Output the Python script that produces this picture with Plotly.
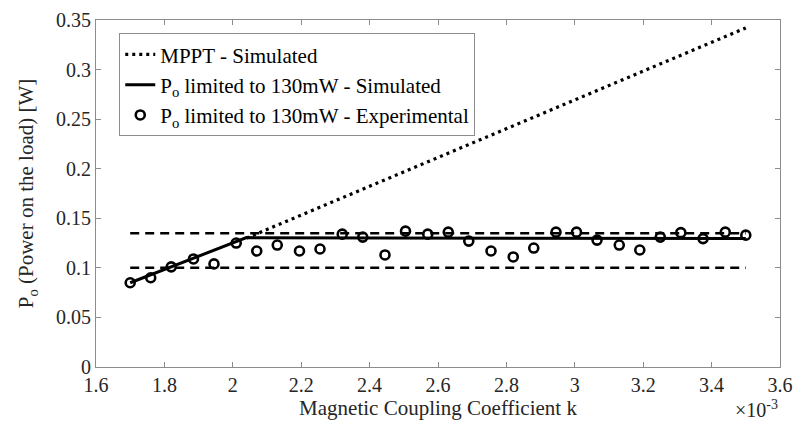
import plotly.graph_objects as go

# Magnetic coupling coefficient (x 10^-3)
k_exp = [1.70, 1.76, 1.82, 1.885, 1.945, 2.01, 2.07, 2.13, 2.195, 2.255,
         2.32, 2.38, 2.445, 2.505, 2.57, 2.63, 2.69, 2.755, 2.82, 2.88,
         2.945, 3.005, 3.065, 3.13, 3.19, 3.25, 3.31, 3.375, 3.44, 3.50]
p_exp = [0.085, 0.090, 0.101, 0.109, 0.104, 0.125, 0.117, 0.123, 0.117, 0.119,
         0.134, 0.131, 0.113, 0.137, 0.134, 0.136, 0.127, 0.117, 0.111, 0.120,
         0.136, 0.136, 0.128, 0.123, 0.118, 0.131, 0.1355, 0.1295, 0.136, 0.133]

k_mppt = [2.04, 3.50]
p_mppt = [0.130, 0.342]

k_lim = [1.70, 2.04, 3.50]
p_lim = [0.085, 0.1305, 0.1295]

k_band = [1.70, 3.50]
p_band_hi = [0.135, 0.135]
p_band_lo = [0.100, 0.100]

x_ticks = [1.6, 1.8, 2.0, 2.2, 2.4, 2.6, 2.8, 3.0, 3.2, 3.4, 3.6]
x_labels = ["1.6", "1.8", "2", "2.2", "2.4", "2.6", "2.8", "3", "3.2", "3.4", "3.6"]
y_ticks = [0, 0.05, 0.1, 0.15, 0.2, 0.25, 0.3, 0.35]
y_labels = ["0", "0.05", "0.1", "0.15", "0.2", "0.25", "0.3", "0.35"]

FONT = "Liberation Serif"

fig = go.Figure()
fig.add_trace(go.Scatter(x=k_mppt, y=p_mppt, mode="lines", name="MPPT - Simulated",
                         line=dict(color="black", width=3.2, dash="3px,4px")))
fig.add_trace(go.Scatter(x=k_lim, y=p_lim, mode="lines",
                         name="P<sub>o</sub> limited to 130mW - Simulated",
                         line=dict(color="black", width=3)))
fig.add_trace(go.Scatter(x=k_exp, y=p_exp, mode="markers",
                         name="P<sub>o</sub> limited to 130mW - Experimental",
                         marker=dict(symbol="circle-open", size=9, color="black",
                                     line=dict(width=2.6, color="black"))))
for yb in (p_band_hi, p_band_lo):
    fig.add_trace(go.Scatter(x=k_band, y=yb, mode="lines", showlegend=False,
                             line=dict(color="black", width=2.5, dash="9px,6px")))

axis_common = dict(showline=True, linecolor="#8c8c8c", linewidth=1, mirror="ticks",
                   ticks="inside", ticklen=5, tickcolor="#8c8c8c", showgrid=False,
                   zeroline=False, automargin=False,
                   tickfont=dict(family=FONT, size=20, color="#262626"))

fig.update_layout(
    width=798, height=428,
    margin=dict(l=96, r=18, t=20, b=61),
    paper_bgcolor="white", plot_bgcolor="white",
    font=dict(family=FONT, size=20, color="#262626"),
    xaxis=dict(range=[1.6, 3.6], tickvals=x_ticks, ticktext=x_labels,
               title=dict(text="Magnetic Coupling Coefficient k", standoff=2,
                          font=dict(family=FONT, size=21, color="#262626")),
               **axis_common),
    yaxis=dict(range=[0, 0.35], tickvals=y_ticks, ticktext=y_labels,
               title=dict(text="P<sub>o</sub> (Power on the load) [W]", standoff=16,
                          font=dict(family=FONT, size=21, color="#262626")),
               **axis_common),
    legend=dict(x=0.034, y=0.962, xanchor="left", yanchor="top",
                bgcolor="white", bordercolor="#8c8c8c", borderwidth=1,
                font=dict(family=FONT, size=21, color="black"),
                itemwidth=30, tracegroupgap=0),
    showlegend=True,
)
fig.add_annotation(text="×10<sup>-3</sup>", xref="paper", yref="paper",
                   x=1.0, y=-0.08, xanchor="right", yanchor="top", showarrow=False,
                   font=dict(family=FONT, size=20, color="#262626"))

post = (
    "document.body.style.margin='0';document.body.style.overflow='hidden';"
    "document.querySelectorAll('text, tspan').forEach(function(t){"
    "t.style.setProperty('font-family', \"'Liberation Serif', 'DejaVu Serif', serif\", 'important');});"
)
fig.write_html("out.html", config={"displayModeBar": False}, post_script=post)
